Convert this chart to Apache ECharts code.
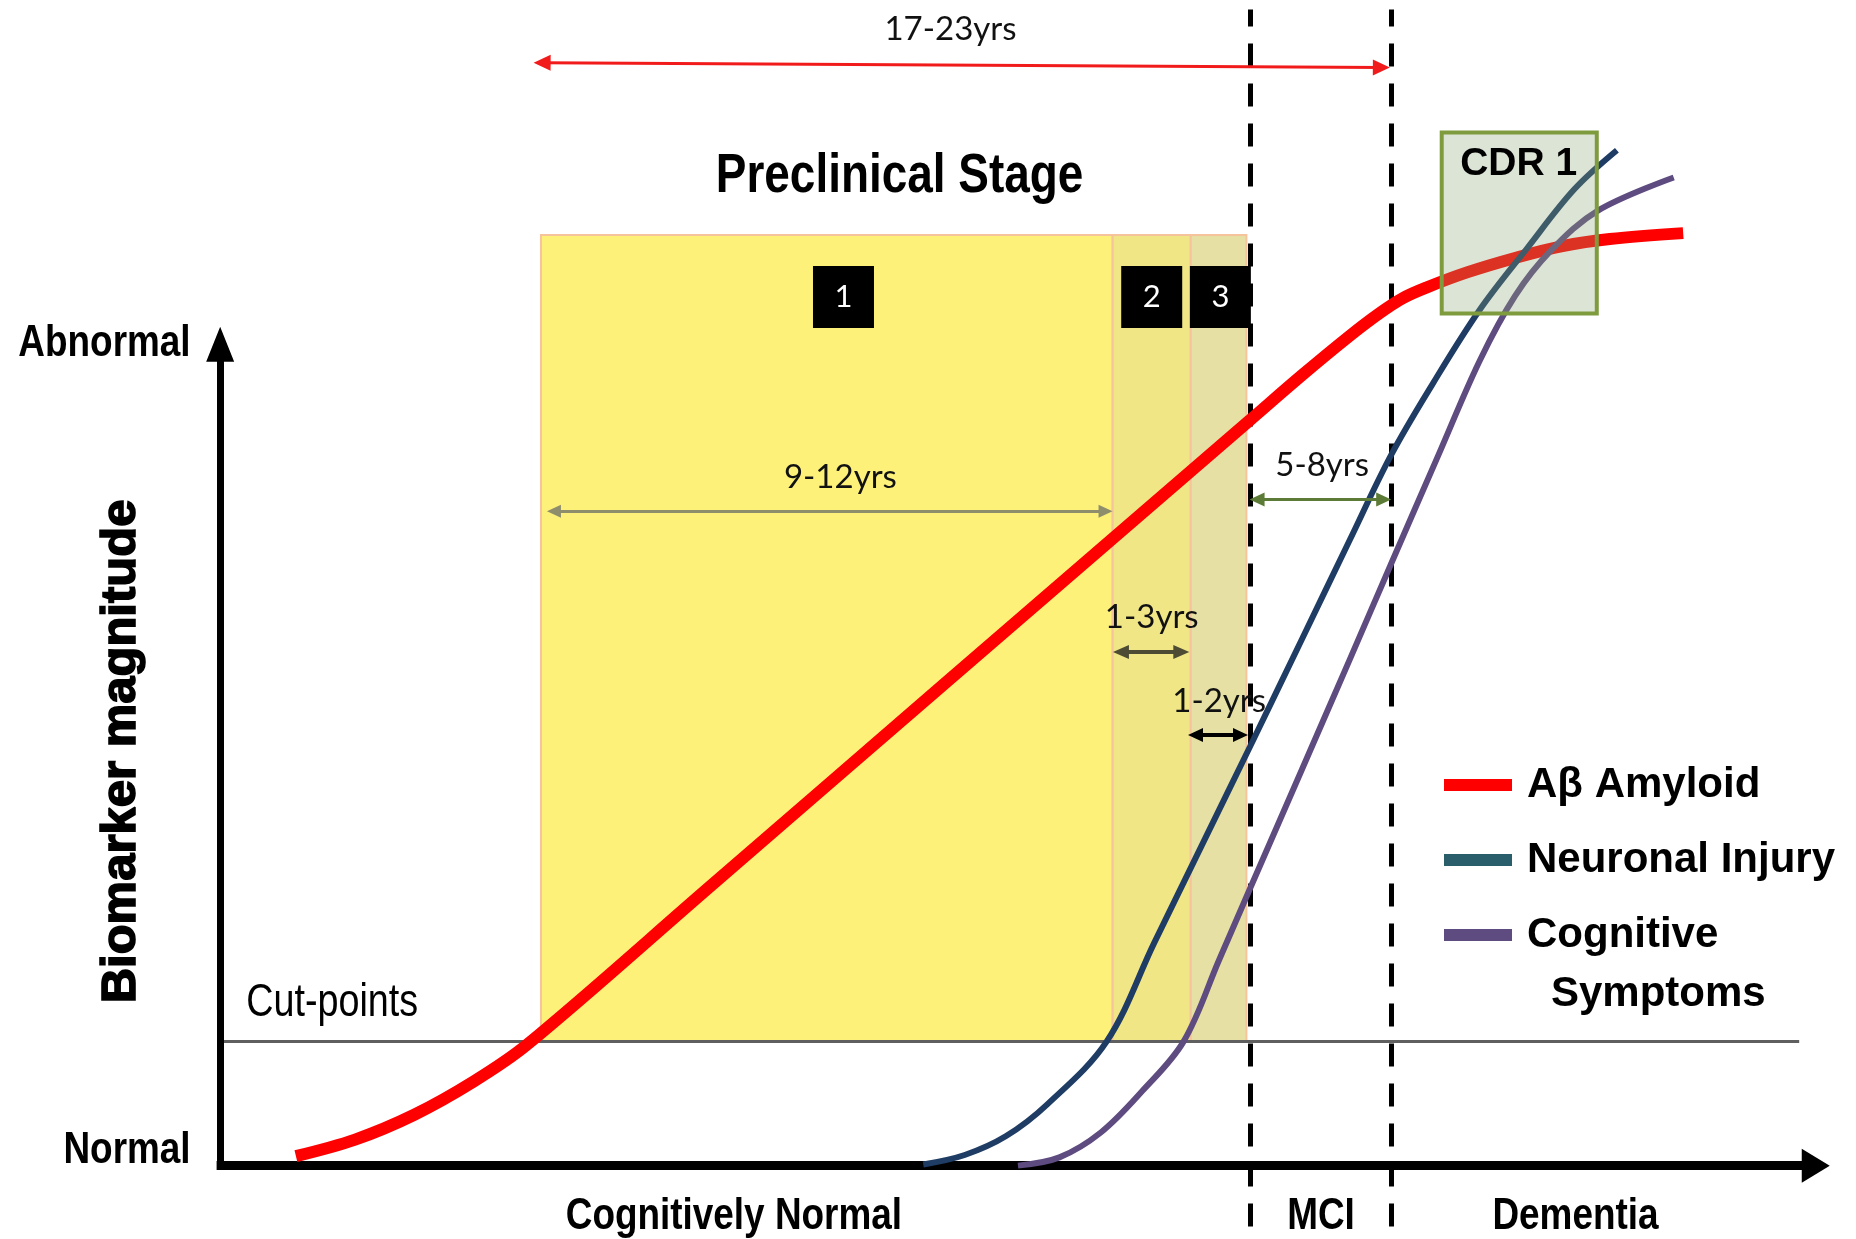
<!DOCTYPE html>
<html>
<head>
<meta charset="utf-8">
<script src="https://cdn.jsdelivr.net/npm/echarts@6/dist/echarts.min.js"></script>
<style>html,body{margin:0;padding:0;background:#fff}#chart{width:1856px;height:1239px}</style>
</head>
<body>
<div id="chart"></div>
<script>
// ---- data (arbitrary units; origin at the axes) ----
const amyloid = [[6.4,0.8],[11.4,2.2],[16.4,4.3],[21.4,7.1],[25.9,10.2],[41.4,23.6],[61.4,40.9],[87.0,63.0],[91.4,66.8],[95.4,70.1],[97.9,72.0],[99.9,73.3],[101.9,74.2],[105.4,75.5],[109.4,76.7],[113.4,77.7],[117.4,78.3],[123.6,78.8]];
const neuronal = [[59.4,0.1],[62.9,0.9],[66.4,2.5],[69.9,5.2],[74.9,10.5],[78.9,18.8],[82.9,27.0],[87.0,35.4],[91.4,44.5],[95.4,52.8],[98.9,60.0],[102.4,66.0],[106.4,72.3],[110.4,77.5],[114.4,82.5],[118.0,85.8]];
const cognitive = [[67.4,0.0],[70.9,0.7],[74.4,2.8],[77.9,6.3],[81.4,10.5],[84.4,17.4],[87.0,23.4],[91.4,33.5],[95.4,42.7],[98.9,50.8],[102.9,60.0],[106.4,68.0],[109.4,73.5],[112.4,77.3],[116.4,80.7],[122.8,83.5]];
const seriesNames = ['A\u03b2 Amyloid', 'Neuronal Injury', 'Cognitive'];
const cutPoint = 10.5;
const stageBounds = [27.1, 75.4, 82.0, 86.7];   // preclinical stages 1,2,3
const stageTop = 78.65;
const stageLabels = ['1', '2', '3'];
const stageBoxCenters = [[52.66, 73.4], [78.7, 73.4], [84.5, 73.4]];
const phaseLines = [87.0, 98.9];                // MCI onset, dementia onset
const phaseLabels = ['Cognitively Normal', 'MCI', 'Dementia'];
const yLabels = ['Normal', 'Abnormal'];
const cdrBox = [[103.2, 72.0], [116.3, 87.3]];
const spans = [
  {text: '17-23yrs', from: [27.2, 93.2], to: [98.1, 92.8]},
  {text: '9-12yrs',  from: [28.2, 55.3], to: [74.8, 55.3]},
  {text: '1-3yrs',   from: [76.1, 43.4], to: [81.2, 43.4]},
  {text: '1-2yrs',   from: [82.4, 36.4], to: [86.2, 36.4]},
  {text: '5-8yrs',   from: [87.6, 56.3], to: [98.3, 56.3]}
];
const xAxisEnd = 134.8, yAxisEnd = 69.4, cutEnd = 133.4;

// ---- styles ----
const SANS = "'Liberation Sans', Arial, sans-serif";
const spanStyles = [
  {color: '#F21B1B', width: 3, head: [16, 17]},
  {color: '#8E8E6C', width: 3, head: [13, 14]},
  {color: '#4D4B33', width: 4, head: [14, 16]},
  {color: '#000000', width: 4, head: [14, 15]},
  {color: '#5B7B36', width: 3, head: [14, 15]}
];
const stageColors = ['#FDF17A', '#F0E686', '#E6E0A4'];

const chart = echarts.init(document.getElementById('chart'), null, {renderer: 'canvas'});

const stageAreas = stageColors.map((c, i) => [
  {coord: [stageBounds[i], cutPoint], itemStyle: {color: c, borderColor: '#F5C49C', borderWidth: 2}},
  {coord: [stageBounds[i + 1], stageTop]}
]);

const bgLines = [
  [{coord: [0, cutPoint], symbol: 'none', lineStyle: {color: '#5f5f5f', width: 3, type: 'solid'}}, {coord: [cutEnd, cutPoint], symbol: 'none'}],
  [{coord: [phaseLines[0], 97.7], symbol: 'none', lineStyle: {color: '#000', width: 5, type: [23, 17], dashOffset: 6}}, {coord: [phaseLines[0], -6.1], symbol: 'none'}],
  [{coord: [phaseLines[1], 97.7], symbol: 'none', lineStyle: {color: '#000', width: 5, type: [23, 17], dashOffset: 6}}, {coord: [phaseLines[1], -6.1], symbol: 'none'}],
  [{coord: [-0.3, 0], symbol: 'none', lineStyle: {color: '#000', width: 9, type: 'solid'}}, {coord: [xAxisEnd, 0], symbol: 'triangle', symbolSize: [34, 28]}],
  [{coord: [0, -0.3], symbol: 'none', lineStyle: {color: '#000', width: 7, type: 'solid'}}, {coord: [0, yAxisEnd], symbol: 'triangle', symbolSize: [28, 35]}]
];

const spanLines = spans.map((s, i) => [
  {coord: s.from, symbol: 'triangle', symbolSize: spanStyles[i].head, lineStyle: {color: spanStyles[i].color, width: spanStyles[i].width, type: 'solid'}},
  {coord: s.to, symbol: 'triangle', symbolSize: spanStyles[i].head}
]);

const boxPoints = stageLabels.map((t, i) => ({
  coord: stageBoxCenters[i], value: t, symbol: 'rect', symbolSize: [61, 62],
  itemStyle: {color: '#000'},
  label: {show: true, formatter: t, color: '#fff', fontSize: 31, fontFamily: 'Lato, sans-serif', position: 'inside'}
}));

const lineColors = ['#FF0000', '#1E3C64', '#5E4B80'];
const legendColors = ['#FF0000', '#2A5E6A', '#5E4B80'];

const option = {
  animation: false,
  backgroundColor: '#ffffff',
  grid: {left: 0, right: 0, top: 0, bottom: 0, containLabel: false},
  xAxis: {type: 'value', min: -18.6, max: 138.2, show: false},
  yAxis: {type: 'value', min: -6.2, max: 98.5, show: false},
  legend: {
    orient: 'vertical', left: 1444, top: 757, padding: 0, itemWidth: 68, itemHeight: 12, itemGap: 19,
    icon: 'rect', selectedMode: false,
    data: seriesNames.map((n, i) => ({name: n, itemStyle: {color: legendColors[i]}})),
    textStyle: {fontFamily: SANS, fontWeight: 'bold', fontSize: 42, lineHeight: 56, color: '#000', padding: [0, 0, 0, 10]}
  },
  series: [
    {
      name: '__bg', type: 'line', data: [], z: 1, silent: true,
      markArea: {silent: true, z: 1, data: stageAreas},
      markLine: {silent: true, z: 1.5, label: {show: false}, symbol: 'none', data: bgLines}
    },
    ...[amyloid, neuronal, cognitive].map((d, i) => ({
      name: seriesNames[i], type: 'line', data: d, z: 2, showSymbol: false, smooth: 0.35, silent: true,
      color: lineColors[i],
      lineStyle: {color: lineColors[i], width: i === 0 ? 12 : 6, cap: 'butt'}
    })),
    {
      name: '__top', type: 'line', data: [], z: 5, silent: true,
      markArea: {silent: true, z: 10, data: [[
        {coord: cdrBox[0], itemStyle: {color: 'rgba(140,165,120,0.3)', borderColor: '#7E9C3E', borderWidth: 4}},
        {coord: cdrBox[1]}
      ]]},
      markLine: {silent: true, z: 6, label: {show: false}, data: spanLines},
      markPoint: {silent: true, z: 7, data: boxPoints}
    }
  ]
};
chart.setOption(option);

// ---- text annotations positioned from data coordinates ----
function px(pt) { return chart.convertToPixel({gridIndex: 0}, pt); }
function txt(text, pt, font, align, extra) {
  const p = px(pt);
  return Object.assign({type: 'text', x: p[0], y: p[1], z: 100, silent: true,
    style: Object.assign({text: text, fill: '#000', align: align || 'center', verticalAlign: 'middle',
      textAlign: align || 'center', textVerticalAlign: 'middle'}, font)}, extra || {});
}
const NARROWX = {scaleX: 0.82};
const fBold = s => ({fontFamily: SANS, fontWeight: 'bold', fontSize: s});
const fReg = s => ({fontFamily: SANS, fontWeight: 'normal', fontSize: s});
const fYrs = {fontFamily: 'Lato, sans-serif', fontSize: 33, fill: '#111'};
const spanLabelPos = [[61.7, 96.0], [52.4, 58.2], [78.7, 46.3], [84.4, 39.2], [93.1, 59.2]];

const graphics = [
  txt('Preclinical Stage', [57.4, 83.6], fBold(56), 'center', NARROWX),
  txt(yLabels[1], [-2.5, 69.5], fBold(45), 'right', NARROWX),
  txt(yLabels[0], [-2.5, 1.3], fBold(45), 'right', NARROWX),
  txt('Cut-points', [2.2, 13.7], fReg(46), 'left', NARROWX),
  txt(phaseLabels[0], [43.4, -4.3], fBold(45), 'center', NARROWX),
  txt(phaseLabels[1], [93.0, -4.3], fBold(45), 'center', NARROWX),
  txt(phaseLabels[2], [114.5, -4.3], fBold(45), 'center', NARROWX),
  txt('CDR 1', [109.7, 84.6], fBold(39)),
  txt('Symptoms', [121.5, 14.5], fBold(42)),
  txt('Biomarker magnitude', [-8.3, 35.0], Object.assign(fBold(49), {stroke: '#000', lineWidth: 1.6}), 'center', {rotation: Math.PI / 2})
].concat(spans.map((s, i) => txt(s.text, spanLabelPos[i], fYrs)));

chart.setOption({graphic: {elements: graphics}});
</script>
</body>
</html>
